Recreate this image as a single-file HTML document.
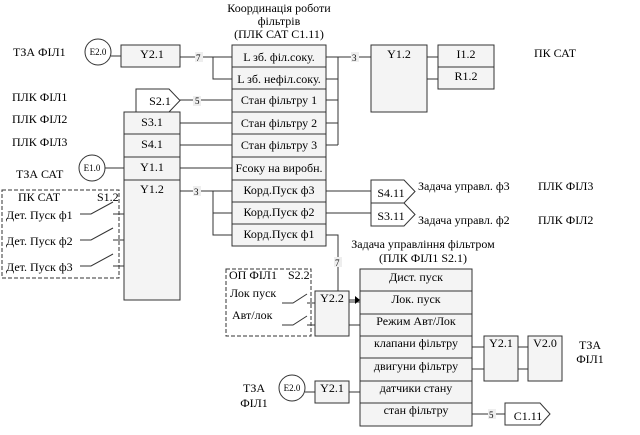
<!DOCTYPE html>
<html><head><meta charset="utf-8"><style>body{margin:0;background:#fff}svg{display:block}svg text{font-family:"Liberation Serif",serif}</style></head><body>
<svg width="640" height="435" viewBox="0 0 640 435" xmlns="http://www.w3.org/2000/svg" font-size="12" fill="#000">
<g stroke="#333" stroke-width="1" fill="none">
<rect x="232" y="45" width="94" height="201" fill="#f4f4f4"/>
<path d="M232 67H326M232 89H326M232 112H326M232 134H326M232 157H326M232 180H326M232 202H326M232 224H326"/>
<rect x="124" y="112" width="56" height="188" fill="#f4f4f4"/>
<path d="M124 134H180M124 157H180M124 180H180"/>
<path d="M136 112V89H169L180 100.5L169 112Z" fill="#fff"/>
<rect x="121" y="45" width="59" height="22" fill="#f4f4f4"/>
<circle cx="98" cy="52" r="13" fill="#fff"/>
<circle cx="92" cy="168" r="13" fill="#fff"/>
<path d="M111 56H121M105 168H124"/>
<path d="M180 57H232M213 57V79H232M180 100H232M180 123H232M180 145H232M180 168H232"/>
<path d="M180 191H232M213 191V235H232M213 213H232"/>
<path d="M326 57H338M326 79H338M326 100H338M326 123H338M326 145H338M338 57V145M338 57H371"/>
<rect x="371" y="45" width="56" height="67" fill="#f4f4f4"/>
<rect x="438" y="45" width="56" height="44" fill="#f4f4f4"/>
<path d="M438 67H494M427 57H438M427 79H438"/>
<path d="M326 191H371M326 213H371"/>
<path d="M371 180H404L415 191.5L404 203H371Z" fill="#fff"/>
<path d="M371 203H404L415 214.5L404 226H371Z" fill="#fff"/>
<path d="M326 235H338V300H355"/>
<rect x="2" y="190" width="117" height="88" stroke-dasharray="4,2"/>
<path d="M80 214H91L113 202M113 214H124M80 240H91L113 228M113 240H124M80 266H91L113 254M113 266H124"/>
<rect x="360" y="269" width="112" height="157" fill="#f4f4f4"/>
<path d="M360 291H472M360 314H472M360 336H472M360 358H472M360 381H472M360 403H472"/>
<rect x="226" y="269" width="85" height="67" stroke-dasharray="4,2"/>
<path d="M282 303H293L307 294M307 303H315M282 325H293L307 316M307 325H315"/>
<rect x="315" y="291" width="34" height="45" fill="#f4f4f4"/>
<path d="M349 302H360M349 325H360"/>
<rect x="484" y="336" width="34" height="45" fill="#f4f4f4"/>
<rect x="528" y="336" width="34" height="45" fill="#f4f4f4"/>
<path d="M472 347H484M472 369H484M518 347H528M518 369H528"/>
<circle cx="292" cy="388" r="13" fill="#fff"/>
<rect x="315" y="381" width="34" height="22" fill="#f4f4f4"/>
<path d="M305 392H315M349 392H360M472 414H505"/>
<path d="M505 403H540L550 414L540 425H505Z" fill="#fff"/>
</g>
<path d="M355 296L360 300L355 304Z" fill="#000"/>
<g font-size="9">
<rect x="195" y="52" width="8" height="10" fill="#eee"/><text x="196" y="61">7</text>
<rect x="351" y="52" width="8" height="10" fill="#eee"/><text x="352" y="61">3</text>
<rect x="193" y="96" width="8" height="10" fill="#eee"/><text x="195" y="104">5</text>
<rect x="193" y="186" width="8" height="10" fill="#eee"/><text x="194" y="195">3</text>
<rect x="334" y="257" width="8" height="10" fill="#eee"/><text x="335" y="266">7</text>
<rect x="488" y="409" width="8" height="10" fill="#eee"/><text x="489" y="418">5</text>
</g>
<g text-anchor="middle">
<text x="279" y="12">Координація роботи</text>
<text x="279" y="25">фільтрів</text>
<text x="279" y="38">(ПЛК САТ С1.11)</text>
<text x="279" y="61">L зб. філ.соку.</text>
<text x="279" y="83">L зб. нефіл.соку.</text>
<text x="279" y="104">Стан фільтру 1</text>
<text x="279" y="127">Стан фільтру 2</text>
<text x="279" y="149">Стан фільтру 3</text>
<text x="279" y="172">Fсоку на виробн.</text>
<text x="279" y="194">Корд.Пуск ф3</text>
<text x="279" y="216">Корд.Пуск ф2</text>
<text x="279" y="238">Корд.Пуск ф1</text>
<text x="152" y="58">Y2.1</text>
<text x="160" y="105">S2.1</text>
<text x="152" y="126">S3.1</text>
<text x="152" y="148">S4.1</text>
<text x="152" y="171">Y1.1</text>
<text x="152" y="193">Y1.2</text>
<text x="399" y="58">Y1.2</text>
<text x="466" y="58">I1.2</text>
<text x="466" y="80">R1.2</text>
<text x="391" y="197">S4.11</text>
<text x="391" y="220">S3.11</text>
<text x="423" y="248">Задача управління фільтром</text>
<text x="423" y="262">(ПЛК ФІЛ1 S2.1)</text>
<text x="416" y="281">Дист. пуск</text>
<text x="416" y="303">Лок. пуск</text>
<text x="416" y="325">Режим Авт/Лок</text>
<text x="416" y="347">клапани фільтру</text>
<text x="416" y="370">двигуни фільтру</text>
<text x="416" y="392">датчики стану</text>
<text x="416" y="414">стан фільтру</text>
<text x="332" y="302">Y2.2</text>
<text x="501" y="347">Y2.1</text>
<text x="545" y="347">V2.0</text>
<text x="332" y="392">Y2.1</text>
<text x="528" y="420">C1.11</text>
<text x="590" y="349">ТЗА</text>
<text x="590" y="363">ФІЛ1</text>
<text x="254" y="392">ТЗА</text>
<text x="254" y="407">ФІЛ1</text>
</g>
<g font-size="9" text-anchor="middle"><text x="98" y="55">E2.0</text><text x="92" y="171">E1.0</text><text x="292" y="391">E2.0</text></g>
<g>
<text x="13" y="56">ТЗА ФІЛ1</text>
<text x="12" y="101">ПЛК ФІЛ1</text>
<text x="12" y="123">ПЛК ФІЛ2</text>
<text x="12" y="146">ПЛК ФІЛ3</text>
<text x="16" y="178">ТЗА САТ</text>
<text x="18" y="201">ПК САТ</text>
<text x="97" y="201">S1.2</text>
<text x="6" y="219">Дет. Пуск ф1</text>
<text x="6" y="245">Дет. Пуск ф2</text>
<text x="6" y="271">Дет. Пуск ф3</text>
<text x="534" y="57">ПК САТ</text>
<text x="418" y="190">Задача управл. ф3</text>
<text x="538" y="190">ПЛК ФІЛ3</text>
<text x="418" y="224">Задача управл. ф2</text>
<text x="538" y="224">ПЛК ФІЛ2</text>
<text x="229" y="279">ОП ФІЛ1</text>
<text x="288" y="279">S2.2</text>
<text x="230" y="297">Лок пуск</text>
<text x="232" y="319">Авт/лок</text>
</g>
</svg>
</body></html>
